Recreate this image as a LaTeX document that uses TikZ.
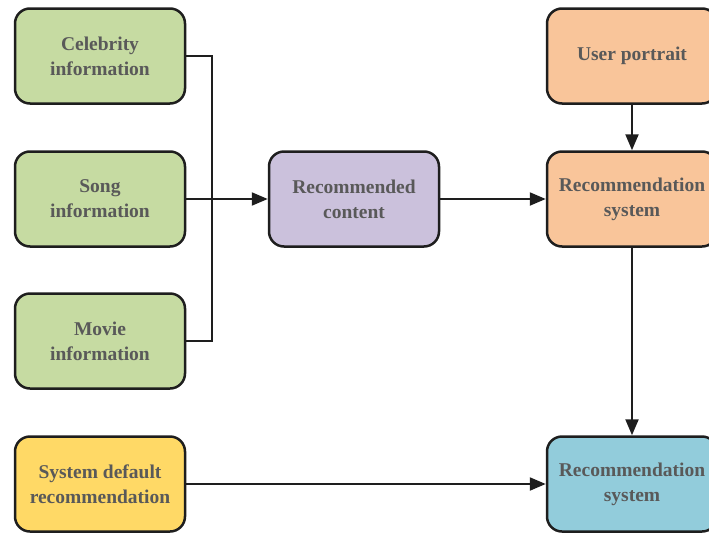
\documentclass[tikz,border=0pt]{standalone}
\usepackage{fontspec}
\setmainfont{Liberation Serif}[BoldFont={Liberation Serif Bold}]
\usetikzlibrary{arrows.meta}
\definecolor{cgreen}{HTML}{C6DBA2}
\definecolor{cpurple}{HTML}{CBC1DC}
\definecolor{corange}{HTML}{F9C59A}
\definecolor{cyellow}{HTML}{FFD966}
\definecolor{cblue}{HTML}{92CCDB}
\definecolor{ctext}{HTML}{595959}
\definecolor{cline}{HTML}{1E1E1E}
\tikzset{
  box/.style={draw=cline, line width=2.5pt, rounded corners=15pt,
    minimum width=170pt, minimum height=95pt, inner sep=0pt,
    align=center, text=ctext,
    font=\fontsize{19.5}{25}\selectfont\bfseries},
  conn/.style={draw=cline, line width=2.2pt},
  arr/.style={conn, -{Triangle[length=16pt,width=13pt]}},
}
\begin{document}
\begin{tikzpicture}[x=1pt,y=-1pt]
\useasboundingbox (0,0) rectangle (709,536);
\clip (0,0) rectangle (709,536);
\node[box, fill=cgreen] (celeb) at (100,56) {Celebrity\\information};
\node[box, fill=cgreen] (song) at (100,199) {Song\\information};
\node[box, fill=cgreen] (movie) at (100,341) {Movie\\information};
\node[box, fill=cyellow] (default) at (100,484) {System default\\recommendation};
\node[box, fill=cpurple] (content) at (354,199) {Recommended\\content};
\node[box, fill=corange] (portrait) at (632,56) {User portrait};
\node[box, fill=corange] (rsys1) at (632,199) {Recommendation\\system};
\node[box, fill=cblue] (rsys2) at (632,484) {Recommendation\\system};
\coordinate (jtop) at (212,56);
\coordinate (jbot) at (212,341);
\draw[conn] (celeb.east) -- (jtop) -- (jbot) -- (movie.east);
\draw[arr] (song.east) -- (content.west);
\draw[arr] (content.east) -- (rsys1.west);
\draw[arr] (portrait.south) -- (rsys1.north);
\draw[arr] (rsys1.south) -- (rsys2.north);
\draw[arr] (default.east) -- (rsys2.west);
\end{tikzpicture}
\end{document}
